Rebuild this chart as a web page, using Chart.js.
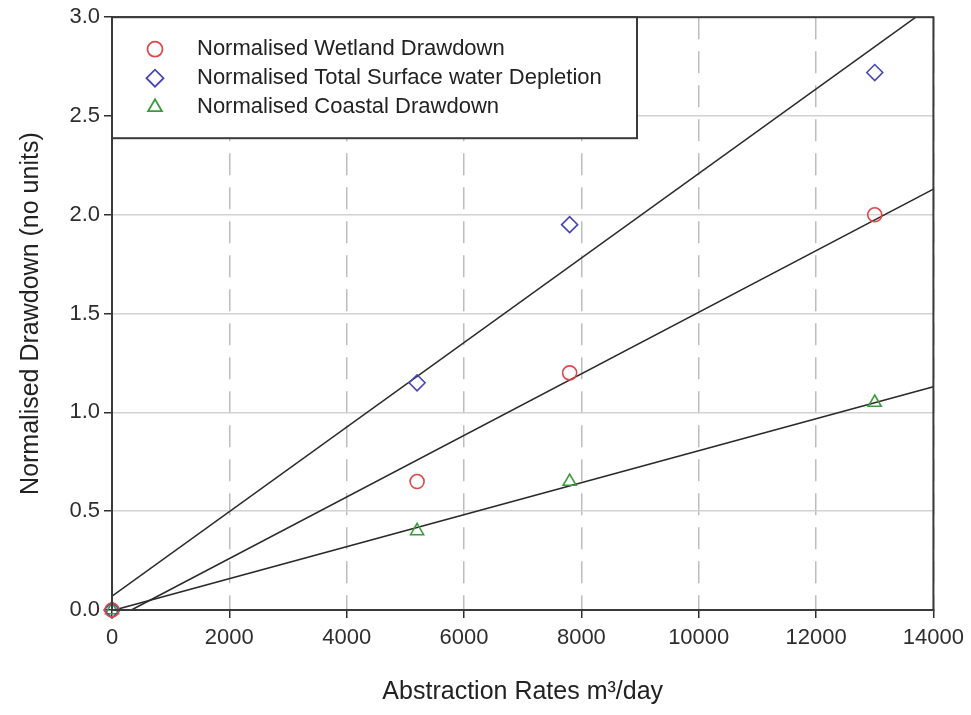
<!DOCTYPE html>
<html>
<head>
<meta charset="utf-8">
<script src="https://cdn.jsdelivr.net/npm/chart.js@4/dist/chart.umd.min.js"></script>
<style>
  html, body { margin: 0; padding: 0; background: #fff; }
  #wrap { width: 971px; height: 715px; position: relative; }
</style>
</head>
<body>
<div id="wrap"><canvas id="chartDrawdown"></canvas></div>
<script>
const abstraktion = [0, 5200, 7800, 13000];          // m³/day
const wetland = [0, 0.65, 1.2, 2.0];
const oberflaeche = [0, 1.15, 1.95, 2.72];
const kueste = [0, 0.4, 0.65, 1.05];

// Ausgleichsgeraden: Endpunkte
const fitWetlandX = [330, 14000], fitWetlandY = [0, 2.13];
const fitOberflaecheX = [0, 13700], fitOberflaecheY = [0.07, 3.0];
const fitKuesteX = [40, 14000], fitKuesteY = [0, 1.13];

const xTicks = [0, 2000, 4000, 6000, 8000, 10000, 12000, 14000];
const yTicks = [0, 0.5, 1.0, 1.5, 2.0, 2.5, 3.0];

const LABELS = {
  wetland: 'Normalised Wetland Drawdown',
  oberflaeche: 'Normalised Total Surface water Depletion',
  kueste: 'Normalised Coastal Drawdown',
};
const FARBEN = { wetland: '#e04848', oberflaeche: '#4646b4', kueste: '#3c9c3c' };
const STIL = { wetland: 'circle', oberflaeche: 'rectRot', kueste: 'triangle' };
const RADIUS = { wetland: 7, oberflaeche: 8, kueste: 7.5 };

const schrift = "'Liberation Sans', Arial, sans-serif";
const punkte = (xs, ys) => xs.map((x, i) => ({ x, y: ys[i] }));

const messreihe = (key, ys) => ({
  label: LABELS[key],
  data: punkte(abstraktion, ys),
  showLine: false,
  clip: false,
  pointStyle: STIL[key],
  pointRadius: RADIUS[key],
  pointBorderWidth: 1.6,
  borderColor: FARBEN[key],
  backgroundColor: 'rgba(0,0,0,0)',
  order: 1,
});
const gerade = (xs, ys) => ({
  label: '',
  data: punkte(xs, ys),
  showLine: true,
  borderColor: '#2a2a2a',
  borderWidth: 1.6,
  pointRadius: 0,
  order: 2,
});

// Legende im Plotbereich oben links + Rahmen rund um die Zeichenfläche
const legendePlugin = {
  id: 'legendeInnen',
  afterDatasetsDraw(chart) {
    const { ctx, chartArea: a } = chart;
    ctx.save();
    ctx.strokeStyle = '#3a3a3a';
    ctx.lineWidth = 2;
    ctx.strokeRect(a.left, a.top, a.right - a.left, a.bottom - a.top);

    const box = { x: a.left, y: a.top, w: 525, h: 121 };
    ctx.fillStyle = '#fff';
    ctx.fillRect(box.x, box.y, box.w, box.h);
    ctx.strokeRect(box.x, box.y, box.w, box.h);

    ['wetland', 'oberflaeche', 'kueste'].forEach((k, i) => {
      const y = box.y + 32 + i * 29;
      ctx.fillStyle = 'rgba(0,0,0,0)';
      ctx.strokeStyle = FARBEN[k];
      ctx.lineWidth = 1.8;
      Chart.helpers.drawPoint(ctx, { pointStyle: STIL[k], radius: RADIUS[k] + 0.5, borderWidth: 1.8 }, box.x + 43, y);
      ctx.fillStyle = '#222';
      ctx.font = `22px ${schrift}`;
      ctx.textAlign = 'left';
      ctx.textBaseline = 'middle';
      ctx.fillText(LABELS[k], box.x + 85, y);
    });
    ctx.restore();
  },
};

const achse = '#2e2e2e';
new Chart(document.getElementById('chartDrawdown'), {
  type: 'scatter',
  data: {
    datasets: [
      gerade(fitWetlandX, fitWetlandY),
      gerade(fitOberflaecheX, fitOberflaecheY),
      gerade(fitKuesteX, fitKuesteY),
      messreihe('wetland', wetland),
      messreihe('oberflaeche', oberflaeche),
      messreihe('kueste', kueste),
    ],
  },
  options: {
    responsive: true,
    maintainAspectRatio: false,
    animation: false,
    layout: { padding: { top: 17, right: 35, left: 0, bottom: 0 } },
    plugins: { legend: { display: false }, tooltip: { enabled: false } },
    scales: {
      x: {
        type: 'linear',
        min: 0, max: 14000,
        afterBuildTicks: (s) => { s.ticks = xTicks.map((value) => ({ value })); },
        afterFit: (s) => { s.height = 105; },
        ticks: { color: achse, font: { family: schrift, size: 22 }, padding: 7, callback: (v) => String(v) },
        grid: { color: '#bdbdbd', lineWidth: 1.5, tickColor: achse, tickLength: 8, tickWidth: 1.5 },
        border: { display: true, color: '#3a3a3a', width: 2, dash: [22, 12] },
        title: { display: true, text: 'Abstraction Rates m³/day', color: '#222', font: { family: schrift, size: 25 }, padding: { top: 4, bottom: 8 } },
      },
      y: {
        type: 'linear',
        min: 0, max: 3,
        afterBuildTicks: (s) => { s.ticks = yTicks.map((value) => ({ value })); },
        afterFit: (s) => { s.width = 112; },
        ticks: { color: achse, font: { family: schrift, size: 22 }, padding: 4, callback: (v) => v.toFixed(1) },
        grid: { color: '#d2d2d2', lineWidth: 1.5, tickColor: achse, tickLength: 8, tickWidth: 1.5 },
        border: { display: true, color: '#3a3a3a', width: 2 },
        title: { display: true, text: 'Normalised Drawdown (no units)', color: '#222', font: { family: schrift, size: 25 }, padding: { top: 16, bottom: 0 } },
      },
    },
  },
  plugins: [legendePlugin],
});
</script>
</body>
</html>
